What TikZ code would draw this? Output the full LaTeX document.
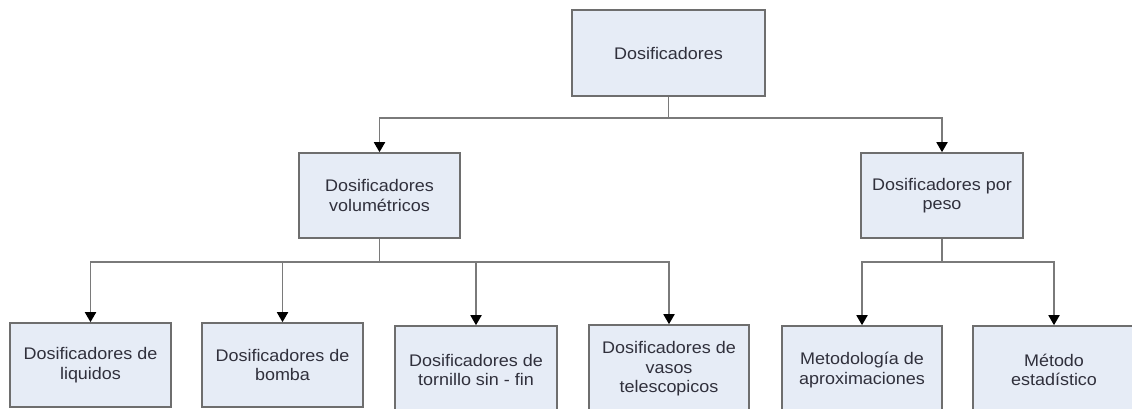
\documentclass[tikz,border=0pt]{standalone}
\usepackage{fontspec}
\setmainfont{Liberation Sans}[FakeStretch=1.07]
\usetikzlibrary{arrows.meta}
\definecolor{boxfill}{HTML}{E6ECF6}
\definecolor{boxline}{HTML}{6E6E6E}
\definecolor{connline}{HTML}{7A7A7A}
\definecolor{txt}{HTML}{30303C}
\begin{document}
\begin{tikzpicture}[x=1pt,y=-1pt,
  box/.style={draw=boxline, line width=1.6pt, fill=boxfill, rectangle, inner sep=0pt,
    align=center, text=txt, font=\fontsize{16.8}{19.5}\selectfont},
  conn/.style={draw=connline, line width=1.8pt},
  arr/.style={conn, -{Triangle[width=11pt,length=10pt,color=black]}}]
\useasboundingbox (0,0) rectangle (1132,409);
\clip (0,0) rectangle (1132,409);
\node[box, minimum width=193pt, minimum height=86pt] (top) at (668.5,53) {Dosificadores};
\node[box, minimum width=161pt, minimum height=85pt] (vol) at (379.5,195.5) {Dosificadores\\volumétricos};
\node[box, minimum width=162pt, minimum height=85pt] (peso) at (942,195.5) {Dosificadores por\\peso};
\node[box, minimum width=161pt, minimum height=84pt] (b1) at (90.5,365) {Dosificadores de\\liquidos};
\node[box, minimum width=161pt, minimum height=84pt] (b2) at (282.5,365) {Dosificadores de\\bomba};
\node[box, minimum width=162pt, minimum height=88pt] (b3) at (476,370) {Dosificadores de\\tornillo sin - fin};
\node[box, minimum width=160pt, minimum height=88pt] (b4) at (669,369) {Dosificadores de\\vasos\\telescopicos};
\node[box, minimum width=160pt, minimum height=88pt] (b5) at (862,370) {Metodología de\\aproximaciones};
\node[box, minimum width=162pt, minimum height=88pt] (b6) at (1054,370) {Método\\estadístico};
\draw[conn] (top.south) -- ++(0,21) coordinate (h0);
\draw[arr] (h0) -| (vol.north);
\draw[arr] (h0) -| (peso.north);
\draw[conn] (vol.south) -- ++(0,23) coordinate (h1);
\draw[arr] (h1) -| (b1.north);
\draw[arr] (h1) -| (b2.north);
\draw[arr] (h1) -| (b3.north);
\draw[arr] (h1) -| (b4.north);
\draw[conn] (peso.south) -- ++(0,23) coordinate (h2);
\draw[arr] (h2) -| (b5.north);
\draw[arr] (h2) -| (b6.north);
\end{tikzpicture}
\end{document}
